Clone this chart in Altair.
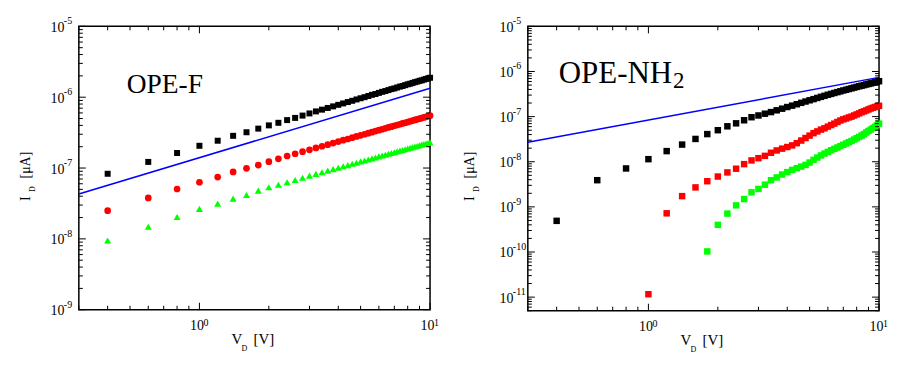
import altair as alt
import pandas as pd

FONT = "Liberation Serif"

# ---------------- data ----------------
V = [0.4, 0.6, 0.8, 1.0, 1.2, 1.4, 1.6, 1.8, 2.0, 2.2, 2.4, 2.6, 2.8, 3.0, 3.2, 3.4,
     3.6, 3.8, 4.0, 4.2, 4.4, 4.6, 4.8, 5.0, 5.2, 5.4, 5.6, 5.8, 6.0, 6.2, 6.4, 6.6,
     6.8, 7.0, 7.2, 7.4, 7.6, 7.8, 8.0, 8.2, 8.4, 8.6, 8.8, 9.0, 9.2, 9.4, 9.6, 9.8, 10.0]

F_black = [8.3e-8, 1.22e-7, 1.63e-7, 2.06e-7, 2.43e-7, 2.85e-7, 3.2e-7, 3.6e-7, 4.0e-7,
           4.35e-7, 4.75e-7, 5.1e-7, 5.5e-7, 5.9e-7, 6.3e-7, 6.67e-7, 7.05e-7, 7.42e-7,
           7.8e-7, 8.17e-7, 8.54e-7, 8.9e-7, 9.3e-7, 9.66e-7, 1.0e-6, 1.04e-6, 1.08e-6,
           1.11e-6, 1.15e-6, 1.19e-6, 1.22e-6, 1.26e-6, 1.3e-6, 1.33e-6, 1.37e-6, 1.41e-6,
           1.44e-6, 1.48e-6, 1.52e-6, 1.55e-6, 1.59e-6, 1.63e-6, 1.66e-6, 1.7e-6, 1.73e-6,
           1.77e-6, 1.81e-6, 1.84e-6, 1.88e-6]
F_red = [2.5e-8, 3.78e-8, 5.06e-8, 6.3e-8, 7.46e-8, 8.8e-8, 9.9e-8, 1.1e-7, 1.23e-7,
         1.35e-7, 1.48e-7, 1.59e-7, 1.7e-7, 1.81e-7, 1.92e-7, 2.03e-7, 2.14e-7, 2.25e-7,
         2.36e-7, 2.47e-7, 2.57e-7, 2.68e-7, 2.79e-7, 2.9e-7, 3.0e-7, 3.11e-7, 3.21e-7,
         3.32e-7, 3.42e-7, 3.53e-7, 3.63e-7, 3.74e-7, 3.84e-7, 3.95e-7, 4.05e-7, 4.15e-7,
         4.26e-7, 4.36e-7, 4.46e-7, 4.56e-7, 4.67e-7, 4.77e-7, 4.87e-7, 4.97e-7, 5.07e-7,
         5.18e-7, 5.28e-7, 5.38e-7, 5.48e-7]
F_green = [9.5e-9, 1.48e-8, 2.04e-8, 2.65e-8, 3.14e-8, 3.7e-8, 4.17e-8, 4.8e-8, 5.35e-8,
           5.82e-8, 6.3e-8, 6.78e-8, 7.3e-8, 7.8e-8, 8.27e-8, 8.73e-8, 9.19e-8, 9.65e-8,
           1.01e-7, 1.06e-7, 1.1e-7, 1.15e-7, 1.19e-7, 1.24e-7, 1.28e-7, 1.32e-7, 1.37e-7,
           1.41e-7, 1.46e-7, 1.5e-7, 1.54e-7, 1.59e-7, 1.63e-7, 1.67e-7, 1.72e-7, 1.76e-7,
           1.8e-7, 1.84e-7, 1.89e-7, 1.93e-7, 1.97e-7, 2.01e-7, 2.05e-7, 2.1e-7, 2.14e-7,
           2.18e-7, 2.22e-7, 2.26e-7, 2.3e-7]

NH2_black = [4.9e-10, 3.9e-9, 7.1e-9, 1.14e-8, 1.72e-8, 2.4e-8, 3.2e-8, 4.1e-8, 5.0e-8,
             6.1e-8, 7.1e-8, 8.3e-8, 9.7e-8, 1.06e-7, 1.16e-7, 1.26e-7, 1.38e-7, 1.5e-7,
             1.63e-7, 1.75e-7, 1.88e-7, 2.02e-7, 2.16e-7, 2.3e-7, 2.44e-7, 2.59e-7, 2.74e-7,
             2.89e-7, 3.05e-7, 3.19e-7, 3.34e-7, 3.49e-7, 3.64e-7, 3.8e-7, 3.94e-7, 4.09e-7,
             4.24e-7, 4.4e-7, 4.55e-7, 4.7e-7, 4.84e-7, 4.99e-7, 5.15e-7, 5.3e-7, 5.45e-7,
             5.61e-7, 5.77e-7, 5.93e-7, 6.1e-7]
V_NH2_red = V[3:]
NH2_red = [1.16e-11, 7.2e-10, 1.73e-9, 2.7e-9, 3.7e-9, 4.7e-9, 5.8e-9, 7.0e-9, 8.85e-9,
           1.07e-8, 1.2e-8, 1.35e-8, 1.58e-8, 1.78e-8, 1.95e-8, 2.12e-8, 2.3e-8, 2.58e-8,
           2.95e-8, 3.35e-8, 3.8e-8, 4.3e-8, 4.7e-8, 5.15e-8, 5.5e-8, 6.0e-8, 6.5e-8,
           7.0e-8, 7.6e-8, 8.2e-8, 8.7e-8, 9.1e-8, 9.6e-8, 1.0e-7, 1.06e-7, 1.12e-7,
           1.18e-7, 1.25e-7, 1.31e-7, 1.37e-7, 1.44e-7, 1.51e-7, 1.57e-7, 1.63e-7, 1.68e-7,
           1.74e-7]
V_NH2_green = V[7:]
NH2_green = [1.03e-10, 4.0e-10, 7.1e-10, 1.08e-9, 1.49e-9, 2.1e-9, 2.5e-9, 3.1e-9, 3.9e-9,
             4.5e-9, 5.2e-9, 5.9e-9, 6.6e-9, 7.2e-9, 7.8e-9, 8.5e-9, 9.6e-9, 1.1e-8,
             1.24e-8, 1.38e-8, 1.52e-8, 1.66e-8, 1.8e-8, 1.93e-8, 2.07e-8, 2.22e-8, 2.38e-8,
             2.54e-8, 2.71e-8, 2.89e-8, 3.1e-8, 3.32e-8, 3.55e-8, 3.8e-8, 4.1e-8, 4.45e-8,
             4.8e-8, 5.15e-8, 5.55e-8, 5.95e-8, 6.45e-8, 7.0e-8]

FIT_V = [0.3, 10.0]
F_fit = [4.3e-8, 1.34e-6]
NH2_fit = [2.7e-8, 7.4e-7]

X_DOMAIN = [0.3, 10.0]
F_YDOMAIN = [1e-9, 1e-5]
NH2_YDOMAIN = [5e-12, 1e-5]

X_MAJOR = [1.0, 10.0]
X_EXP = [0, 1]
X_MINOR = [0.3, 0.4, 0.5, 0.6, 0.7, 0.8, 0.9, 2, 3, 4, 5, 6, 7, 8, 9]
F_YEXP = [-9, -8, -7, -6, -5]
NH2_YEXP = [-11, -10, -9, -8, -7, -6, -5]

F_LABEL = ["OPE-F"]
NH2_LABEL = ["OPE-NH", "2"]
YTITLE = ["I", "D", "[\u03bcA]"]
XTITLE = ["V", "D", "[V]"]

W = 352


def text_layer(txt, x, y, size, angle=0):
    return alt.Chart(pd.DataFrame({"t": [txt]})).mark_text(
        font=FONT, fontSize=size, align="left", baseline="alphabetic",
        color="black", angle=angle
    ).encode(text="t:N", x=alt.value(x), y=alt.value(y))


def panel(series, fit, ydom, yexp, H, ytitle_x, labels):
    xs = alt.Scale(type="log", domain=X_DOMAIN, nice=False)
    ys = alt.Scale(type="log", domain=ydom, nice=False)
    xaxis = alt.Axis(values=X_MAJOR, labelExpr="'10'", ticks=False, tickSize=0,
                     domain=False, grid=False, labelPadding=9, labelFont=FONT,
                     labelFontSize=14, labelColor="black", title=None, labelOffset=-3,
                     labelFlush=False, labelOverlap=False, labelAlign="center")
    yvals = [10.0 ** e for e in yexp]
    yaxis = alt.Axis(values=yvals, labelExpr="'10'", ticks=False, tickSize=0,
                     domain=False, grid=False, labelPadding=15, labelFont=FONT,
                     labelFontSize=14, labelColor="black", title=None, labelOffset=1,
                     labelOverlap=False, labelBaseline="middle")
    X = lambda: alt.X("V:Q", scale=xs, axis=xaxis)
    Y = lambda: alt.Y("I:Q", scale=ys, axis=yaxis)
    layers = []
    for xv, yv, color, shape, size in series:
        df = pd.DataFrame({"V": xv, "I": yv})
        layers.append(
            alt.Chart(df).mark_point(filled=True, shape=shape, size=size, color=color,
                                     opacity=1, strokeWidth=0).encode(x=X(), y=Y())
        )
    layers.append(
        alt.Chart(pd.DataFrame({"V": FIT_V, "I": fit})).mark_line(
            color="#0000ff", strokeWidth=1.5).encode(x=X(), y=Y())
    )
    # inward ticks on all four sides
    ymin = [m * 10.0 ** e for e in range(yexp[0] - 1, yexp[-1]) for m in range(2, 10)
            if ydom[0] <= m * 10.0 ** e <= ydom[1]]

    def xt(vals, L, top):
        return alt.Chart(pd.DataFrame({"V": vals})).mark_rule(color="black", strokeWidth=1).encode(
            x=X(), y=alt.value(0 if top else H), y2=alt.value(L if top else H - L))

    def yt(vals, L, right):
        return alt.Chart(pd.DataFrame({"I": vals})).mark_rule(color="black", strokeWidth=1).encode(
            y=Y(), x=alt.value(W if right else 0), x2=alt.value(W - L if right else L))

    for top in (False, True):
        layers.append(xt(X_MAJOR, 7, top))
        layers.append(xt(X_MINOR, 4, top))
    for right in (False, True):
        layers.append(yt(yvals, 7, right))
        layers.append(yt(ymin, 4, right))

    # exponents of the tick labels
    layers.append(
        alt.Chart(pd.DataFrame({"I": yvals, "e": [str(e) for e in yexp]})).mark_text(
            font=FONT, fontSize=10, align="left", baseline="middle", color="black", dy=-5
        ).encode(y=Y(), x=alt.value(-15), text="e:N")
    )
    layers.append(
        alt.Chart(pd.DataFrame({"V": X_MAJOR, "e": [str(e) for e in X_EXP]})).mark_text(
            font=FONT, fontSize=10, align="left", baseline="top", color="black", dx=4
        ).encode(x=X(), y=alt.value(H + 8), text="e:N")
    )

    # axis titles with subscripts
    layers.append(text_layer(XTITLE[0], 153, H + 34, 15))
    layers.append(text_layer(XTITLE[1], 163, H + 41, 8))
    layers.append(text_layer(XTITLE[2], 175, H + 34, 15))
    layers.append(text_layer(YTITLE[0], ytitle_x, 175, 14, 270))
    layers.append(text_layer(YTITLE[1], ytitle_x + 5, 166, 8, 270))
    layers.append(text_layer(YTITLE[2], ytitle_x, 152.5, 14, 270))
    layers.extend(labels)
    return alt.layer(*layers).properties(width=W, height=H)


left = panel(
    [(V, F_black, "black", "square", 36),
     (V, F_red, "#ff0000", "circle", 45),
     (V, F_green, "#00ff00", "triangle-up", 50)],
    F_fit, F_YDOMAIN, F_YEXP, 284, -49,
    [text_layer(F_LABEL[0], 48, 66.5, 27.5)],
)
right = panel(
    [(V, NH2_black, "black", "square", 42),
     (V_NH2_red, NH2_red, "#ff0000", "square", 42),
     (V_NH2_green, NH2_green, "#00ff00", "square", 42)],
    NH2_fit, NH2_YDOMAIN, NH2_YEXP, 285, -54,
    [text_layer(NH2_LABEL[0], 31, 57, 31), text_layer(NH2_LABEL[1], 145.5, 62, 23)],
)

chart = alt.hconcat(left, right, spacing=98, bounds="flush").properties(
    padding={"left": 10, "top": 7, "right": 5, "bottom": 5},
).configure_view(stroke="black", strokeWidth=1.5)

chart.save("out.html", embed_options={"renderer": "svg", "actions": False})
